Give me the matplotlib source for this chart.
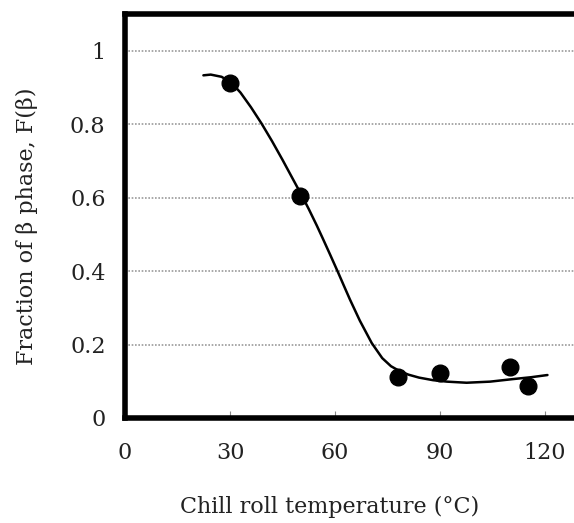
import matplotlib
matplotlib.use("Agg")
import matplotlib.pyplot as plt

# measured data points
temp_pts = [30, 50, 78, 90, 110, 115]
frac_pts = [0.912, 0.605, 0.112, 0.123, 0.14, 0.088]

# fitted curve
curve_x = [22.4, 24.5, 27.6, 30.5, 33, 36, 39, 42, 45, 48, 50.5, 52.5, 54.8, 56.5, 58.6,
           60.9, 62.5, 64.3, 67.1, 70.5, 73.5, 76, 78.6, 81, 84, 88, 92, 97.6, 104.3,
           110.9, 116, 120.7]
curve_y = [0.933, 0.935, 0.929, 0.912, 0.886, 0.846, 0.802, 0.754, 0.703, 0.650, 0.606,
           0.569, 0.524, 0.489, 0.445, 0.396, 0.361, 0.322, 0.265, 0.204, 0.163, 0.141,
           0.127, 0.118, 0.110, 0.103, 0.099, 0.096, 0.099, 0.106, 0.111, 0.117]

xticks = [0, 30, 60, 90, 120]
yticks = [0, 0.2, 0.4, 0.6, 0.8, 1]
yticklabels = ["0", "0.2", "0.4", "0.6", "0.8", "1"]

plt.rcParams['font.family'] = ['DejaVu Serif']

fig = plt.figure(figsize=(5.74, 5.23), dpi=100)
ax = fig.add_axes([125/574, 105/523, 455/574, 404/523])

ax.set_xlim(0, 130)
ax.set_ylim(0, 1.1)

for y in yticks[1:]:
    ax.axhline(y, color='#9a9a9a', linestyle=(0, (1, 1)), linewidth=1.2, zorder=1)

ax.plot(curve_x, curve_y, color='black', linewidth=1.8, zorder=3,
        solid_joinstyle='round', solid_capstyle='round')
ax.plot(temp_pts, frac_pts, 'o', color='black', markersize=12, zorder=4)

ax.set_xticks(xticks)
ax.set_xticklabels([str(v) for v in xticks])
ax.set_yticks(yticks)
ax.set_yticklabels(yticklabels)
ax.tick_params(axis='x', direction='in', length=5, width=0.8, color='#888888',
               labelsize=16, pad=17, labelcolor='#222222')
ax.tick_params(axis='y', length=0, labelsize=16, pad=14, labelcolor='#222222')

for s in ax.spines.values():
    s.set_linewidth(4)
    s.set_color('black')

ax.set_xlabel("Chill roll temperature (°C)", fontsize=16, color='#222222')
ax.set_ylabel("Fraction of β phase, F(β)", fontsize=16, color='#222222')
ax.xaxis.set_label_coords(0.45, -0.193)
ax.yaxis.set_label_coords(-0.191, 0.475)

fig.savefig("out.png", dpi=100)
